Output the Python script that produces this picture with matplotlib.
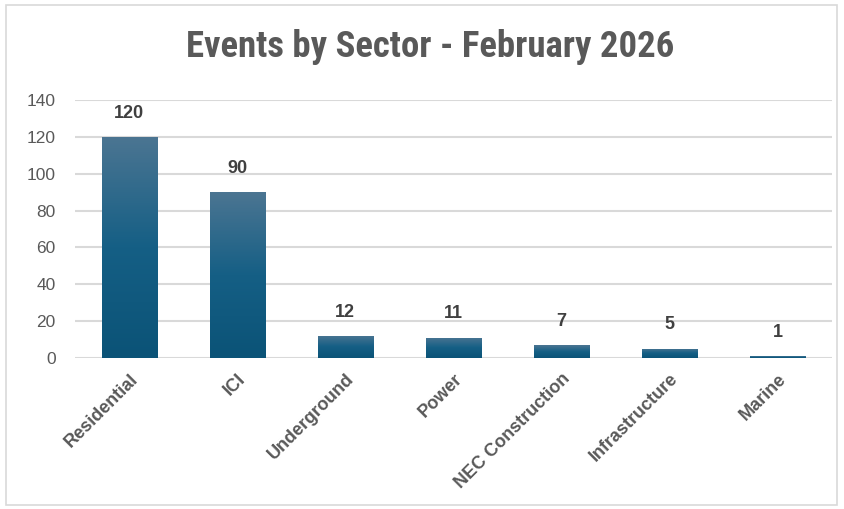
import numpy as np
from matplotlib import pyplot as plt
from matplotlib.colors import LinearSegmentedColormap
from matplotlib.patches import Rectangle

sectors = ['Residential', 'ICI', 'Underground', 'Power', 'NEC Construction', 'Infrastructure', 'Marine']
events = [120, 90, 12, 11, 7, 5, 1]
yticks = [0, 20, 40, 60, 80, 100, 120, 140]

plt.rcParams['font.family'] = ['Liberation Sans', 'DejaVu Sans']

fig = plt.figure(figsize=(8.44, 5.09), dpi=100)
ax = fig.add_axes([0.0889, 0.2967, 0.8965, 0.5068])

# chart frame
fig.patches.append(Rectangle((6/844, 4/509), 831/844, 500/509, transform=fig.transFigure,
                             fill=False, edgecolor='#d9d9d9', linewidth=1.2))

grad = LinearSegmentedColormap.from_list('g', ['#0b5377', '#155f85', '#4b7592'])
x = np.arange(len(sectors))
w = 0.51
bars = ax.bar(x, events, width=w, color='none', edgecolor='#e4e4e4', linewidth=0.6, zorder=3)
for b in bars:
    x0, y0 = b.get_x(), b.get_y()
    h = b.get_height()
    im = ax.imshow(np.linspace(0, 1, 100).reshape(-1, 1), cmap=grad, origin='lower',
                   extent=[x0, x0 + b.get_width(), y0, y0 + h], aspect='auto', zorder=3)
    im.set_clip_path(b)

for xi, v in zip(x, events):
    ax.annotate(str(v), (xi, v), xytext=(0, 11), textcoords='offset points',
                ha='center', va='bottom', fontsize=13, fontweight='bold', color='#404040')

ax.set_xlim(-0.5, len(sectors) - 0.5)
ax.set_ylim(0, 140)
ax.set_yticks(yticks)
ax.set_xticks(x)
ax.set_xticklabels(sectors, rotation=45, ha='right', rotation_mode='anchor',
                   fontsize=13, fontweight='bold', color='#595959')
ax.tick_params(axis='y', length=0, pad=14, labelsize=12.5, labelcolor='#595959')
ax.tick_params(axis='x', length=0, pad=9)
ax.grid(axis='y', color='#d9d9d9', linewidth=1.5, zorder=0)
ax.set_axisbelow(True)
for s in ax.spines.values():
    s.set_visible(False)

fig.text(0.51, 0.908, 'Events by Sector - February 2026', ha='center', va='center',
         fontsize=26.5, fontweight='bold', color='#595959',
         family=['Roboto Condensed', 'Roboto', 'DejaVu Sans'])

fig.savefig('out.png', dpi=100)
